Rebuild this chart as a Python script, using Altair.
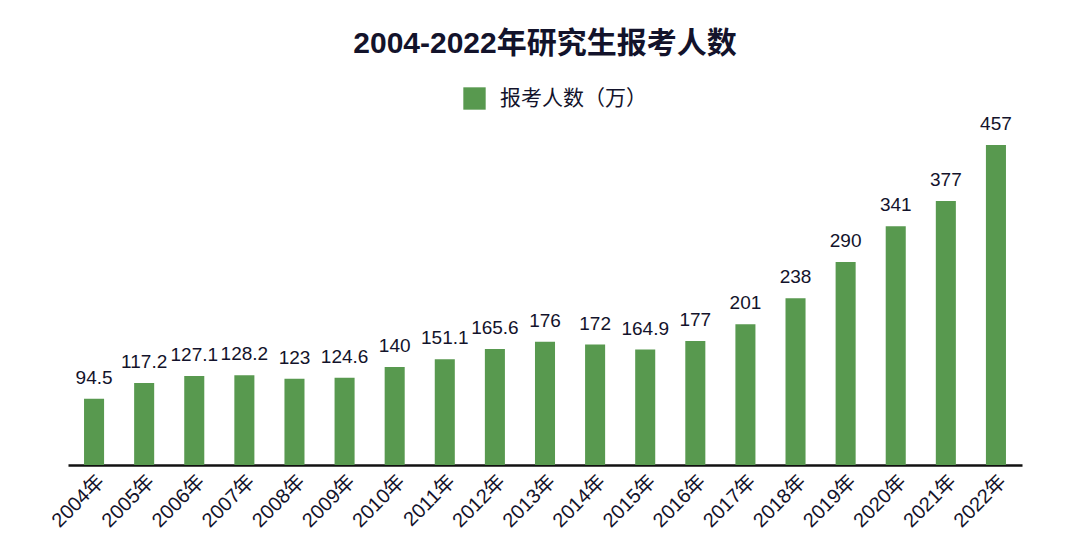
import altair as alt
import pandas as pd

years = ["2004年", "2005年", "2006年", "2007年", "2008年", "2009年", "2010年", "2011年",
         "2012年", "2013年", "2014年", "2015年", "2016年", "2017年", "2018年", "2019年",
         "2020年", "2021年", "2022年"]
values = [94.5, 117.2, 127.1, 128.2, 123, 124.6, 140, 151.1, 165.6, 176, 172, 164.9,
          177, 201, 238, 290, 341, 377, 457]
labels = ["94.5", "117.2", "127.1", "128.2", "123", "124.6", "140", "151.1", "165.6",
          "176", "172", "164.9", "177", "201", "238", "290", "341", "377", "457"]
series_name = "报考人数（万）"
title_text = "2004-2022年研究生报考人数"

df = pd.DataFrame({"year": years, "value": values, "label": labels,
                   "series": [series_name] * len(years)})

FONT = "Liberation Sans, Noto Sans CJK SC, sans-serif"
GREEN = "#58994f"
INK = "#13132b"

x = alt.X("year:N", sort=years, title=None,
          scale=alt.Scale(paddingInner=0.6, paddingOuter=0.32),
          axis=alt.Axis(labelAngle=-45, labelFontSize=20, labelColor=INK, labelFont=FONT,
                        ticks=False, domainColor="#111111", domainWidth=2.5,
                        labelPadding=6))
y = alt.Y("value:Q", title=None, scale=alt.Scale(domain=[0, 457], nice=False),
          axis=None)

bars = alt.Chart(df).mark_bar(color=GREEN).encode(
    x=x, y=y,
    color=alt.Color("series:N", title=None,
                    scale=alt.Scale(domain=[series_name], range=[GREEN]),
                    legend=alt.Legend(orient="none", legendX=395, legendY=-58,
                                      symbolType="square", symbolSize=500,
                                      symbolStrokeWidth=0,
                                      labelFontSize=21, labelFont=FONT, labelColor=INK,
                                      labelOffset=14))
)

text = alt.Chart(df).mark_text(dy=-11, baseline="bottom", fontSize=19, font=FONT,
                               color=INK).encode(x=x, y=y, text="label:N")

chart = (bars + text).properties(
    width=954, height=320,
    title=alt.TitleParams(title_text, fontSize=30, font=FONT, fontWeight="bold",
                          color=INK, anchor="middle", offset=28),
    autosize=alt.AutoSizeParams(type="none"),
    padding={"left": 60, "top": 137, "right": 50, "bottom": 84},
).configure_view(stroke=None)

chart.save("out.html", embed_options={"renderer": "svg", "actions": False})
